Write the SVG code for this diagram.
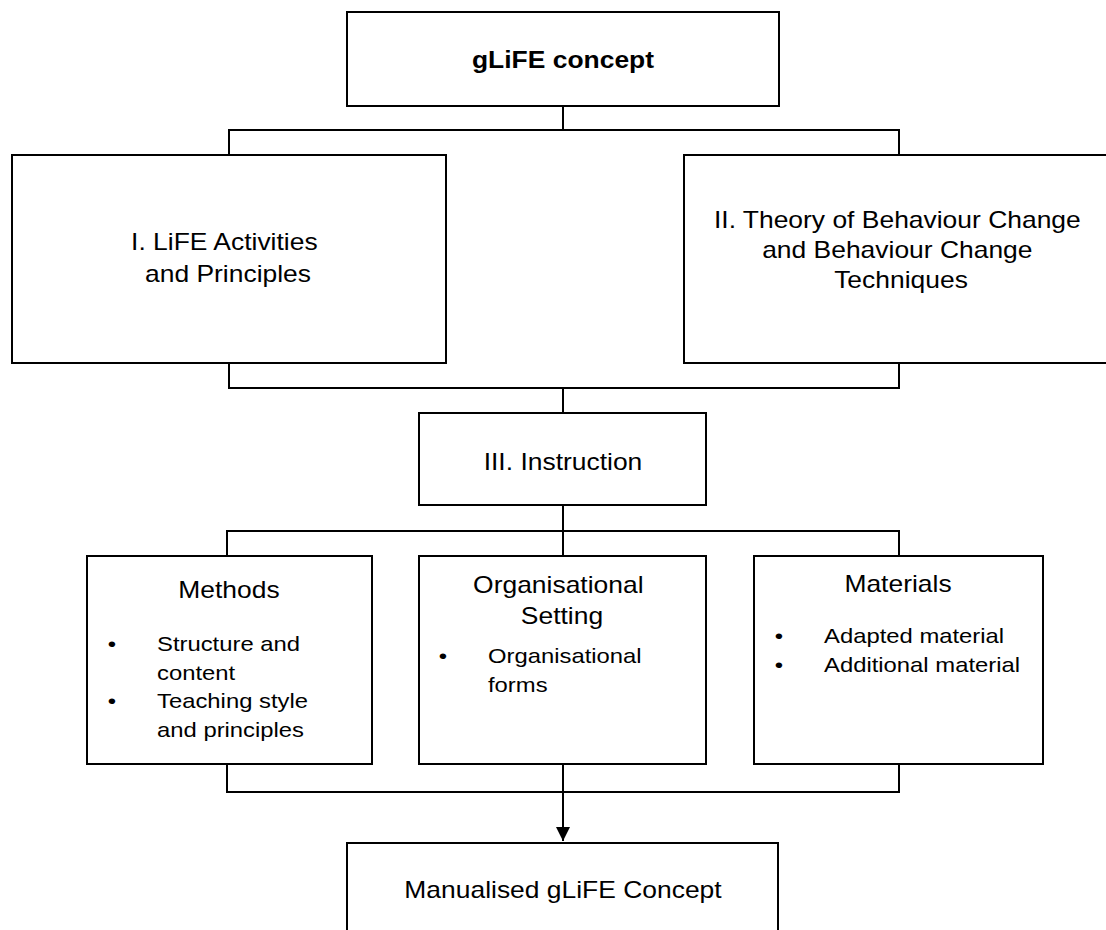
<svg xmlns="http://www.w3.org/2000/svg" width="1106" height="930" viewBox="0 0 1106 930">
  <defs>
    <style>
      .box { fill: #ffffff; stroke: #000000; stroke-width: 2; }
      .wire { fill: none; stroke: #000000; stroke-width: 2; }
      text { font-family: "Liberation Sans", Arial, sans-serif; fill: #000000; }
      .h { font-size: 23.4px; text-anchor: middle; }
      .b { font-size: 21.1px; }
      .dot { font-size: 21.1px; text-anchor: middle; }
      .bold { font-weight: bold; }
    </style>
    <marker id="arrow" markerWidth="14" markerHeight="16" refX="14" refY="7" orient="auto" markerUnits="userSpaceOnUse">
      <path d="M0,0 L14,7 L0,14 Z" fill="#000000"/>
    </marker>
  </defs>

  <rect width="1106" height="930" fill="#ffffff"/>

  <!-- connectors -->
  <g id="connectors">
    <!-- concept to the two source boxes -->
    <path class="wire" d="M563,106 V130 M229,154 V130 H899 V154"/>
    <!-- source boxes merge into instruction -->
    <path class="wire" d="M229,363 V388 H899 V363 M563,388 V413"/>
    <!-- instruction to its three parts -->
    <path class="wire" d="M563,505 V531 M227,556 V531 H899 V556 M563,531 V556"/>
    <!-- parts merge into the manual -->
    <path class="wire" d="M227,764 V792 H899 V764"/>
    <path class="wire" d="M563,765 V841" marker-end="url(#arrow)"/>
  </g>

  <!-- top: concept -->
  <g id="node-concept">
    <rect class="box" x="347" y="12" width="432" height="94"/>
    <text class="h bold" transform="translate(563 68) scale(1.13 1)">gLiFE concept</text>
  </g>

  <!-- I. activities and principles -->
  <g id="node-life">
    <rect class="box" x="12" y="155" width="434" height="208"/>
    <text class="h" transform="translate(228 250) scale(1.13 1)">
      <tspan x="0" y="0">I. LiFE Activities</tspan>
      <tspan x="0" y="32">and Principles</tspan>
    </text>
  </g>

  <!-- II. behaviour change theory -->
  <g id="node-theory">
    <rect class="box" x="684" y="155" width="432" height="208"/>
    <text class="h" transform="translate(901 228) scale(1.13 1)">
      <tspan x="0" y="0">II. Theory of Behaviour Change</tspan>
      <tspan x="0" y="30">and Behaviour Change</tspan>
      <tspan x="0" y="60">Techniques</tspan>
    </text>
  </g>

  <!-- III. instruction -->
  <g id="node-instruction">
    <rect class="box" x="419" y="413" width="287" height="92"/>
    <text class="h" transform="translate(563 470) scale(1.13 1)">III. Instruction</text>
  </g>

  <!-- methods -->
  <g id="node-methods">
    <rect class="box" x="87" y="556" width="285" height="208"/>
    <text class="h" transform="translate(229 598) scale(1.13 1)">Methods</text>
    <text class="dot" transform="translate(112 651) scale(1.13 1)">•</text>
    <text class="b" transform="translate(157 651) scale(1.13 1)">
      <tspan x="0" y="0">Structure and</tspan>
      <tspan x="0" y="29">content</tspan>
    </text>
    <text class="dot" transform="translate(112 708) scale(1.13 1)">•</text>
    <text class="b" transform="translate(157 708) scale(1.13 1)">
      <tspan x="0" y="0">Teaching style</tspan>
      <tspan x="0" y="29">and principles</tspan>
    </text>
  </g>

  <!-- organisational setting -->
  <g id="node-setting">
    <rect class="box" x="419" y="556" width="287" height="208"/>
    <text class="h" transform="translate(562 593) scale(1.13 1)">
      <tspan x="0" y="0">Organisational</tspan>
      <tspan x="0" y="31">Setting</tspan>
    </text>
    <text class="dot" transform="translate(443 663) scale(1.13 1)">•</text>
    <text class="b" transform="translate(488 663) scale(1.13 1)">
      <tspan x="0" y="0">Organisational</tspan>
      <tspan x="0" y="29">forms</tspan>
    </text>
  </g>

  <!-- materials -->
  <g id="node-materials">
    <rect class="box" x="754" y="556" width="289" height="208"/>
    <text class="h" transform="translate(898 592) scale(1.13 1)">Materials</text>
    <text class="dot" transform="translate(779 643) scale(1.13 1)">•</text>
    <text class="b" transform="translate(824 643) scale(1.13 1)">Adapted material</text>
    <text class="dot" transform="translate(779 672) scale(1.13 1)">•</text>
    <text class="b" transform="translate(824 672) scale(1.13 1)">Additional material</text>
  </g>

  <!-- result: manual -->
  <g id="node-manual">
    <rect class="box" x="347" y="843" width="431" height="110"/>
    <text class="h" transform="translate(563 898) scale(1.13 1)">Manualised gLiFE Concept</text>
  </g>
</svg>
